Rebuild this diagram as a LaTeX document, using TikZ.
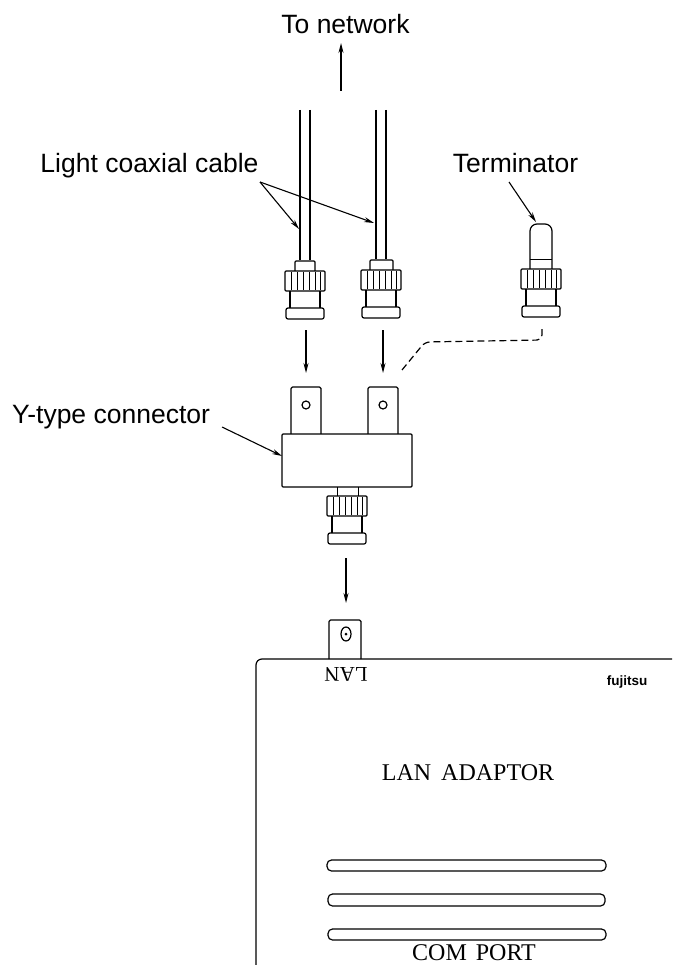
\documentclass[tikz,border=0pt]{standalone}
\usepackage{fontspec}
\setmainfont{Liberation Sans}
\newfontfamily\platefont{Liberation Serif}
\usetikzlibrary{arrows.meta,calc}
\tikzset{>=Stealth}
\tikzset{
  wire/.style={line width=1.2pt,line join=round},
  thin wire/.style={line width=0.8pt},
  leader/.style={->,line width=1.1pt,>={Stealth[length=10pt,width=5pt]}},
  caption/.style={font=\fontsize{26.5}{28}\selectfont,inner sep=0pt,anchor=base},
  plate/.style={font=\platefont\fontsize{24}{26}\selectfont,inner sep=0pt},
  slot/.style={wire,rounded corners=4.5pt},
  % knurled ring, body and base of a plug
  bnc plug/.pic={
    \draw[wire,rounded corners=1pt] (-20,0) rectangle (20,20);
    \foreach \x in {-14,-8,-2,4,10,15} {\draw[thin wire] (\x,1) -- (\x,19);}
    \draw[wire] (-15,20) -- (-15,37) (15,20) -- (15,37);
    \draw[wire,rounded corners=2pt] (-19,37) rectangle (19,48);
  },
  % flat pin with a hole
  flat pin/.pic={
    \draw[wire,rounded corners=1.5pt] (-15,47) -- (-15,0) -- (15,0) -- (15,47);
    \draw[wire] (0,18) circle (4);
  }
}

\begin{document}
\begin{tikzpicture}[x=1pt,y=-1pt]
\useasboundingbox (0,0) rectangle (672,965);

% Textos
\node[caption] (net) at (345.5,34) {To network};
\node[caption] (coax) at (149.5,173) {Light coaxial cable};
\node[caption] (term) at (515.5,173) {Terminator};
\node[caption] (ytype) at (111,423) {Y-type connector};

% Puntos libres de las flechas
\coordinate (netS) at (341,91);
\coordinate (netE) at (341,43);
\coordinate (coaxS) at (260,182);
\coordinate (coaxA) at (299,229);
\coordinate (coaxB) at (374,223);
\coordinate (termS) at (509,182);
\coordinate (termE) at (536,222);
\coordinate (ytypeS) at (222,427);
\coordinate (ytypeE) at (282,456);
\coordinate (plugAS) at (306,330);
\coordinate (plugAE) at (306,373);
\coordinate (plugBS) at (383,330);
\coordinate (plugBE) at (383,373);
\coordinate (plugCS) at (346,558);
\coordinate (plugCE) at (346,603);

% Cables
\draw[wire] (300,110) -- (300,260) (310,110) -- (310,260);
\draw[wire] (376,110) -- (376,259) (386,110) -- (386,259);

% Conectores de los cables
\draw[wire,rounded corners=1pt] (295,271) -- (295,261) -- (315,261) -- (315,271);
\draw[wire,rounded corners=1pt] (370,270) -- (370,260) -- (393,260) -- (393,270);
\pic at (305,271) {bnc plug};
\pic at (381,270) {bnc plug};

% Terminador
\draw[wire,rounded corners=7pt] (530,269) -- (530,224) -- (552,224) -- (552,269);
\draw[thin wire] (530,259) -- (552,259);
\pic at (541,269) {bnc plug};

% Conector en Y
\pic at (306,387) {flat pin};
\pic at (383,387) {flat pin};
\draw[wire,fill=white,rounded corners=1pt] (282,434) rectangle (412,487);
\draw[thin wire] (337,487) -- (337,496) (358,487) -- (358,496);
\pic at (347,496) {bnc plug};

% Adaptador
\draw[wire,rounded corners=1.5pt] (329,659) -- (329,620) -- (361,620) -- (361,659);
\draw[wire] (346,634) ellipse (5 and 7);
\fill (346,634) circle (1.5);
\draw[wire,rounded corners=6pt] (672,659) -- (256,659) -- (256,965);
\draw[slot] (327,860) rectangle (606,871);
\draw[slot] (328,894) rectangle (605,906);
\draw[slot] (328,929) rectangle (606,940);

\node[plate,rotate=180] (lan) at (346,674) {\fontsize{21}{22}\selectfont LAN};
\node[font=\bfseries\fontsize{13.5}{14}\selectfont,inner sep=0pt] (maker) at (627,682) {fujitsu};
\node[plate] (adaptor) at (468,773) {LAN\hspace{4pt} ADAPTOR};
\node[plate] (comport) at (474,953) {COM\hspace{3pt} PORT};

% Flechas
\draw[leader] (netS) -- (netE);
\draw[leader] (coaxS) -- (coaxA);
\draw[leader] (coaxS) -- (coaxB);
\draw[leader] (termS) -- (termE);
\draw[leader] (ytypeS) -- (ytypeE);
\draw[leader] (plugAS) -- (plugAE);
\draw[leader] (plugBS) -- (plugBE);
\draw[leader] (plugCS) -- (plugCE);

% Linea a trazos del terminador
\draw[wire,dash pattern=on 7pt off 4pt,rounded corners=5pt] (402,370) -- (425,342) -- (542,340) -- (542,327);

\end{tikzpicture}
\end{document}
